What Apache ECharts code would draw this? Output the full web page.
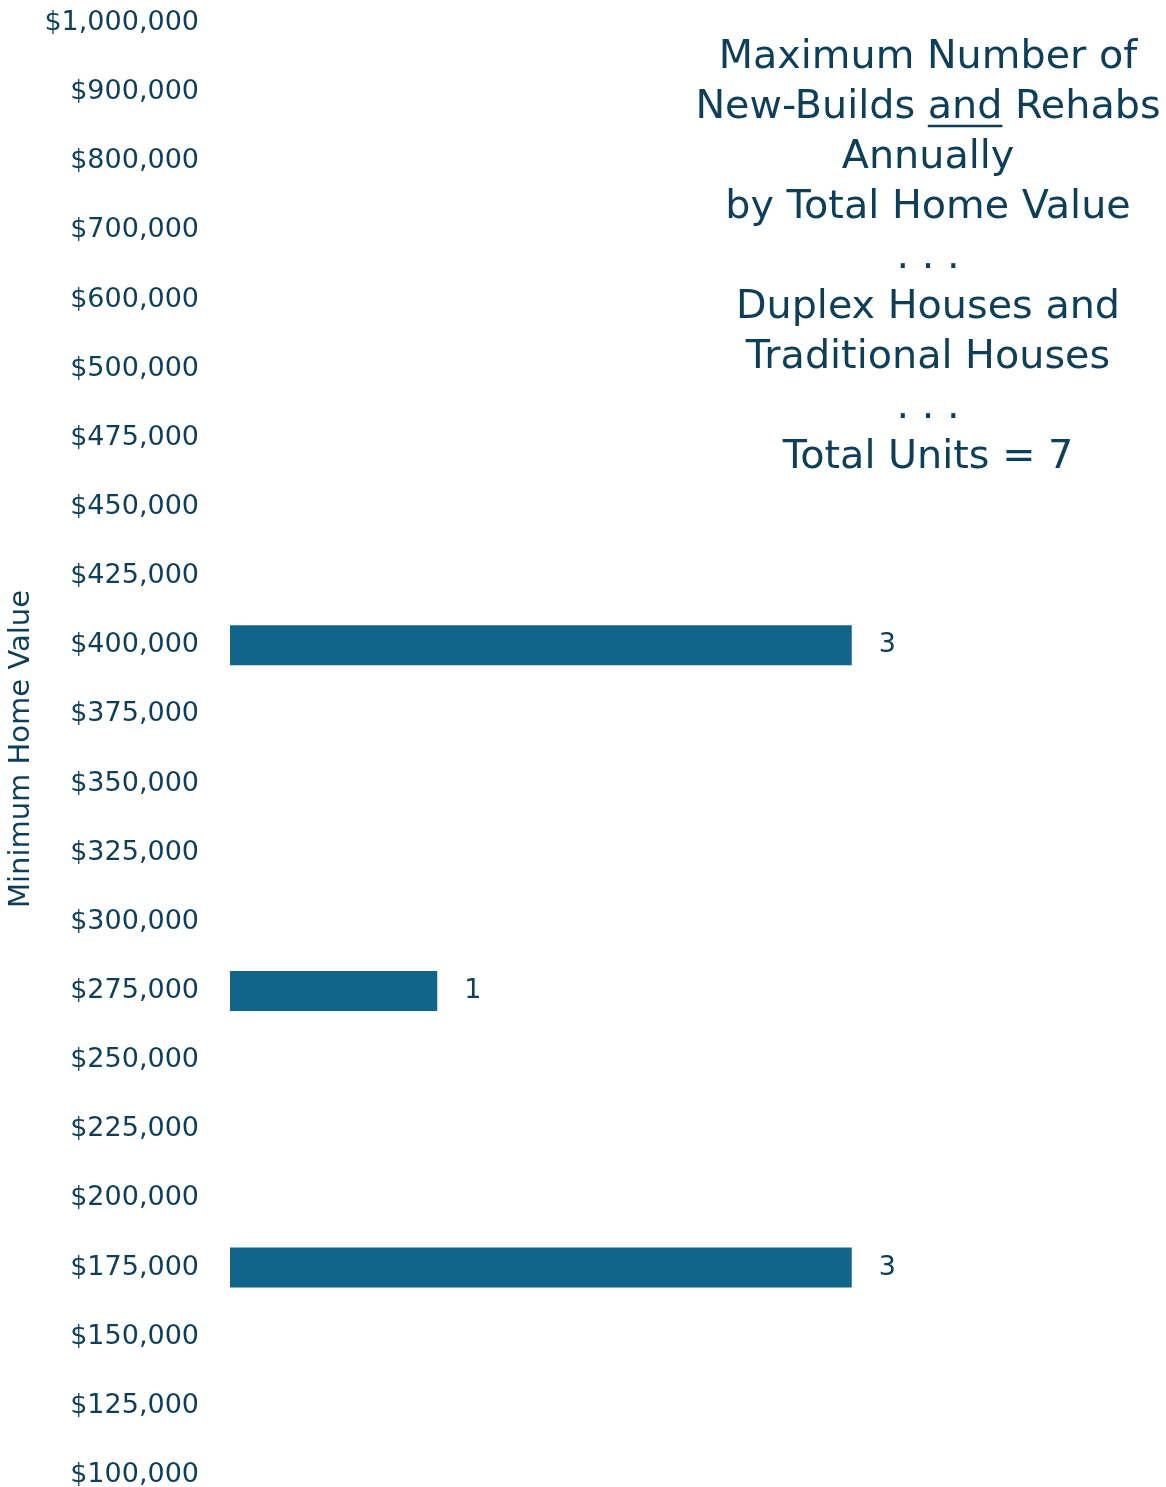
<!DOCTYPE html>
<html>
<head>
<meta charset="utf-8">
<script src="https://cdn.jsdelivr.net/npm/echarts@6/dist/echarts.min.js"></script>
<style>
  html, body { margin: 0; padding: 0; background: #fff; }
  #main { width: 1166px; height: 1487px; }
</style>
</head>
<body>
<div id="main"></div>
<script>
// categories bottom -> top
const homeValues = ['$100,000', '$125,000', '$150,000', '$175,000', '$200,000', '$225,000', '$250,000',
  '$275,000', '$300,000', '$325,000', '$350,000', '$375,000', '$400,000', '$425,000', '$450,000',
  '$475,000', '$500,000', '$600,000', '$700,000', '$800,000', '$900,000', '$1,000,000']
const units = [null, null, null, 3, null, null, null, 1, null, null, null, null, 3, null, null,
  null, null, null, null, null, null, null]
const titleLines = ['Maximum Number of', 'New-Builds and Rehabs', 'Annually', 'by Total Home Value',
  '. . .', 'Duplex Houses and', 'Traditional Houses', '. . .', 'Total Units = 7']

const textColor = '#0e3f5a'
const barColor = '#11648a'
const font = '"DejaVu Sans", "Noto Sans", sans-serif'
const titleSize = 39.7
const titleCenter = 928
const titleTop = 33
const titleLineH = 50

// underline position of "and" on the second title line, measured with the same font
const ctx = document.createElement('canvas').getContext('2d')
ctx.font = titleSize + 'px ' + font
const line2 = titleLines[1]
const lineW = ctx.measureText(line2).width
const preW = ctx.measureText('New-Builds ').width
const andW = ctx.measureText('and').width
const ulX = titleCenter - lineW / 2 + preW
const ulY = titleTop + titleLineH * 1 + titleLineH / 2 + titleSize * 0.42

const chart = echarts.init(document.getElementById('main'))
chart.setOption({
  animation: false,
  textStyle: { fontFamily: font, color: textColor },
  title: {
    text: titleLines.join('\n'),
    left: titleCenter,
    top: titleTop,
    padding: 0,
    textAlign: 'center',
    textStyle: {
      fontFamily: font,
      fontSize: titleSize,
      fontWeight: 'normal',
      color: textColor,
      lineHeight: titleLineH
    }
  },
  graphic: [
    { type: 'rect', shape: { x: ulX, y: ulY, width: andW, height: 2.5 }, style: { fill: textColor } }
  ],
  grid: { left: 230, top: 23, width: 829, bottom: 12, outerBoundsMode: 'none', containLabel: false },
  xAxis: {
    type: 'value',
    min: 0,
    max: 4,
    show: false
  },
  yAxis: {
    type: 'category',
    data: homeValues,
    boundaryGap: false,
    name: 'Minimum Home Value',
    nameLocation: 'middle',
    nameGap: 194,
    nameMoveOverlap: false,
    nameRotate: 90,
    nameTextStyle: { fontFamily: font, fontSize: 29, color: textColor },
    axisLine: { show: false },
    axisTick: { show: false },
    splitLine: { show: false },
    axisLabel: { margin: 31, fontFamily: font, fontSize: 27, color: textColor, interval: 0 }
  },
  series: [{
    type: 'bar',
    data: units,
    barWidth: 40,
    itemStyle: { color: barColor },
    label: {
      show: true,
      position: 'right',
      distance: 27,
      fontFamily: font,
      fontSize: 27,
      color: textColor
    }
  }]
})
</script>
</body>
</html>
